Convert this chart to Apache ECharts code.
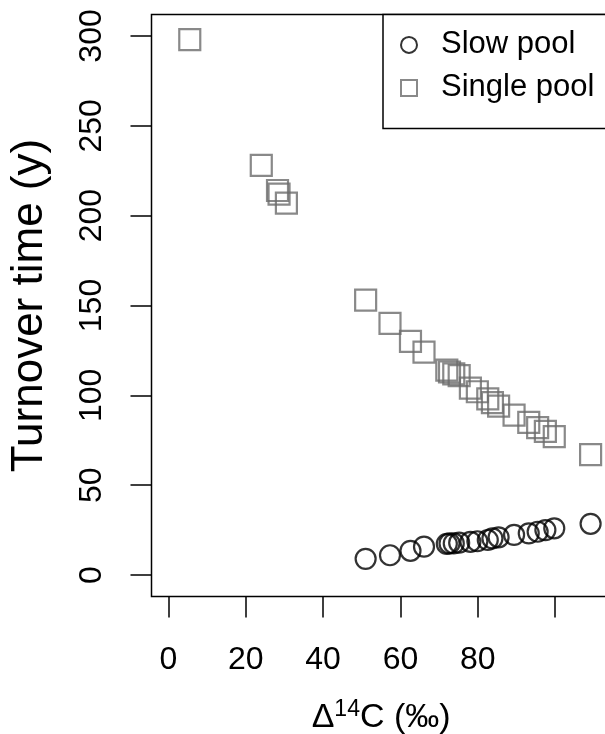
<!DOCTYPE html>
<html>
<head>
<meta charset="utf-8">
<script src="https://cdn.jsdelivr.net/npm/echarts@6/dist/echarts.min.js"></script>
<style>html,body{margin:0;padding:0;background:#fff;}#c{width:605px;height:734px;}</style>
</head>
<body>
<div id="c"></div>
<script>
// Δ14C (‰) of each site
var delta14C   = [5.5, 24, 28.2, 28.6, 30.5, 51, 57.3, 62.6, 66.1, 72, 72.7, 73.8, 75.2, 78.1, 79.9, 82.6, 83.8, 85.4, 89.4, 93.2, 95.5, 97.5, 99.8, 109.2];
// Turnover time (y)
var singlePool = [298, 228, 214, 212, 207, 153, 140, 130, 124, 114, 113, 112, 111, 104, 102, 98, 96, 94, 89, 85, 82, 80, 77, 67];
var slowPool   = [null, null, null, null, null, 9, 11, 13.5, 15.8, 17.3, 17.6, 17.6, 18, 18.5, 18.8, 19.5, 20.4, 21, 22.3, 23.2, 24.1, 25, 26, 28.5];
var xTicks = [0, 20, 40, 60, 80, 100];
var xTickLabels = [0, 20, 40, 60, 80];
var yTicks = [0, 50, 100, 150, 200, 250, 300];
var seriesNames = ['Slow pool', 'Single pool'];

function pairs(ys) {
  var out = [];
  for (var i = 0; i < delta14C.length; i++) {
    if (ys[i] !== null) out.push([delta14C[i], ys[i]]);
  }
  return out;
}

var FONT = 'Liberation Sans, Arial, sans-serif';
var chart = echarts.init(document.getElementById('c'), null, {renderer: 'canvas'});
chart.setOption({
  animation: false,
  backgroundColor: '#fff',
  textStyle: {fontFamily: FONT},
  grid: {
    left: 151.5, top: 14.4, width: 459.2, height: 582.2,
    show: true, borderColor: '#000', borderWidth: 1.5, backgroundColor: 'transparent',
    containLabel: false, outerBoundsMode: 'none'
  },
  legend: {
    left: 383, top: 14.4,
    orient: 'vertical',
    data: seriesNames,
    itemWidth: 16, itemHeight: 16, itemGap: 12,
    padding: [15, 30, 25, 17],
    borderColor: '#000', borderWidth: 1.5, backgroundColor: '#fff',
    itemStyle: {borderWidth: 2},
    textStyle: {fontSize: 31, color: '#000', fontFamily: FONT, padding: [0, 0, 0, 19]},
    selectedMode: false
  },
  xAxis: {
    type: 'value', min: -4.4, max: 114.4,
    axisLine: {show: false, onZero: false},
    splitLine: {show: false},
    axisTick: {show: true, inside: false, length: 21, lineStyle: {color: '#000', width: 1.5}, customValues: xTicks},
    axisLabel: {show: true, customValues: xTickLabels, fontSize: 32, color: '#000', margin: 48, fontFamily: FONT},
    name: '{d|Δ}{s|14}{d|C (‰)}',
    nameLocation: 'middle', nameGap: 102,
    nameTextStyle: {
      rich: {
        d: {fontSize: 34, color: '#000', fontFamily: FONT, lineHeight: 36, verticalAlign: 'bottom'},
        s: {fontSize: 23, color: '#000', fontFamily: FONT, lineHeight: 36, verticalAlign: 'top'}
      }
    }
  },
  yAxis: {
    type: 'value', min: -12, max: 312,
    axisLine: {show: false, onZero: false},
    splitLine: {show: false},
    axisTick: {show: true, inside: false, length: 21, lineStyle: {color: '#000', width: 1.5}, customValues: yTicks},
    axisLabel: {show: true, customValues: yTicks, fontSize: 32, color: '#000', margin: 43, rotate: 90, fontFamily: FONT},
    name: 'Turnover time (y)',
    nameLocation: 'middle', nameGap: 100,
    nameTextStyle: {fontSize: 44, color: '#000', fontFamily: FONT}
  },
  series: [
    {
      name: seriesNames[0], type: 'scatter', data: pairs(slowPool),
      symbol: 'circle', symbolSize: 20,
      itemStyle: {color: 'rgba(0,0,0,0)', borderColor: '#000', borderWidth: 2.2}
    },
    {
      name: seriesNames[1], type: 'scatter', data: pairs(singlePool),
      symbol: 'rect', symbolSize: 21,
      itemStyle: {color: 'rgba(0,0,0,0)', borderColor: '#6b6b6b', borderWidth: 2.2}
    }
  ]
});
</script>
</body>
</html>
